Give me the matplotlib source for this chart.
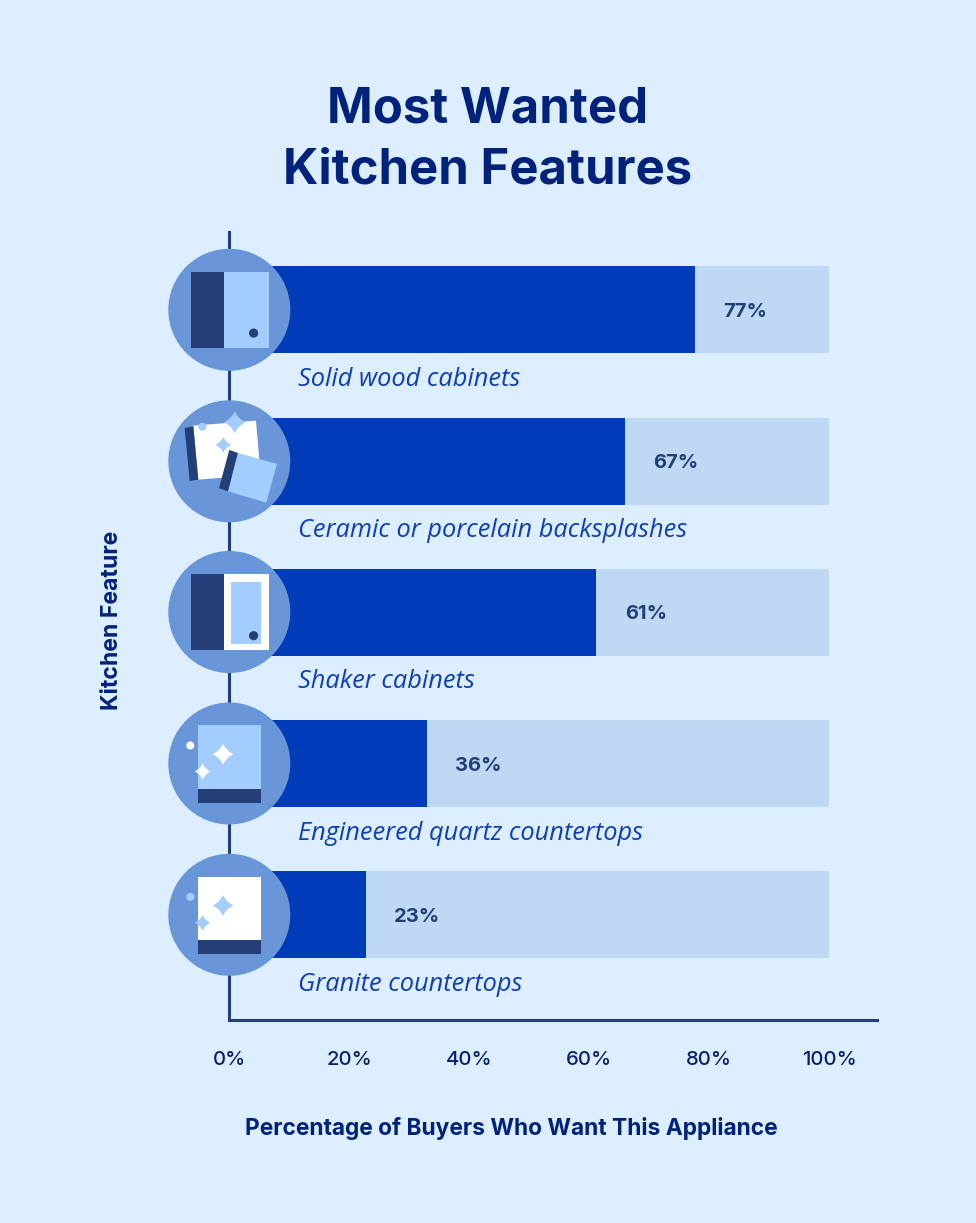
import matplotlib.pyplot as plt
from matplotlib.patches import Circle, Polygon, Rectangle, PathPatch
from matplotlib.path import Path

features = ['Solid wood cabinets', 'Ceramic or porcelain backsplashes', 'Shaker cabinets',
            'Engineered quartz countertops', 'Granite countertops']
bar_values = [77.7, 66.0, 61.2, 33.0, 22.8]
bar_labels = ['77%', '67%', '61%', '36%', '23%']
track_values = [100, 100, 100, 100, 100]
xticks = [0, 20, 40, 60, 80, 100]

BG = '#DCEEFF'
TRACK = '#BFD8F4'
BAR = '#003BB8'
AXIS = '#243E78'
CIRCLE = '#6896D9'
LIGHT = '#A3CDFE'
NAVY = '#00227B'
TICK = '#0A1F6E'
W, H = 976, 1223

plt.rcParams['font.family'] = ['Inter', 'DejaVu Sans']

fig = plt.figure(figsize=(W / 100, H / 100), dpi=100, facecolor=BG)
# axes box in pixels: x 229-877, y 232-1020
ax = fig.add_axes([229 / W, 1 - 1020 / H, 648 / W, 788 / H], facecolor='none')
ypos = list(range(len(features)))

ax.barh(ypos, track_values, height=0.575, color=TRACK, zorder=1)
ax.barh(ypos, bar_values, height=0.575, color=BAR, zorder=2)
ax.set_xlim(0, 108)
ax.set_ylim(4.695, -0.515)

for i, (v, lab, name) in enumerate(zip(bar_values, bar_labels, features)):
    ax.annotate(lab, (v, i), xytext=(20.5, -1.5), textcoords='offset points', va='center', ha='left',
                fontsize=14.5, fontweight='bold', color=AXIS, zorder=3)
    ax.annotate(name, (11.5, i), xytext=(0, -50), textcoords='offset points', va='center', ha='left',
                fontsize=18.3, fontstyle='italic', family='Open Sans', color='#0F3EB5', zorder=3)

for s in ['top', 'right']:
    ax.spines[s].set_visible(False)
for s in ['left', 'bottom']:
    ax.spines[s].set_linewidth(2.2)
    ax.spines[s].set_color(AXIS)
    ax.spines[s].set_zorder(0)
ax.set_yticks([])
ax.set_xticks(xticks)
ax.set_xticklabels([f'{t}%' for t in xticks], fontsize=14.6, fontweight='medium', color=TICK)
ax.tick_params(axis='x', length=0, pad=22)

ax.set_xlabel('Percentage of Buyers Who Want This Appliance', fontsize=16.4, fontweight='bold', color=NAVY)
ax.xaxis.set_label_coords((511 - 229) / 648, -(1129 - 1020) / 788, transform=ax.transAxes)
ax.xaxis.label.set_va('center')
ax.set_ylabel('Kitchen Feature', fontsize=16.6, fontweight='bold', color=NAVY)
ax.yaxis.set_label_coords(-(229 - 112) / 648, (1020 - 620) / 788, transform=ax.transAxes)
ax.yaxis.label.set_va('center')

fig.text(488 / W, 1 - 109.5 / H, 'Most Wanted', ha='center', va='center', fontsize=35.3, fontweight='bold', color=NAVY)
fig.text(488 / W, 1 - 170 / H, 'Kitchen Features', ha='center', va='center', fontsize=35.3, fontweight='bold', color=NAVY)

# icon layer in reference pixels
ov = fig.add_axes([0, 0, 1, 1], facecolor='none')
ov.set_xlim(0, W)
ov.set_ylim(H, 0)
ov.axis('off')


def rect(cx, cy, x0, x1, y0, y1, c):
    ov.add_patch(Rectangle((cx + x0, cy + y0), x1 - x0, y1 - y0, fc=c, ec='none'))


def dot(cx, cy, x, y, r, c):
    ov.add_patch(Circle((cx + x, cy + y), r, fc=c, ec='none'))


def spark(cx, cy, x, y, r, c):
    x += cx
    y += cy
    k = r * 0.3
    verts = [(x, y - r), (x + k, y - k), (x + r, y), (x + k, y + k), (x, y + r),
             (x - k, y + k), (x - r, y), (x - k, y - k), (x, y - r)]
    codes = [Path.MOVETO] + [Path.CURVE3] * 8
    ov.add_patch(PathPatch(Path(verts, codes), fc=c, ec='none'))


def poly(cx, cy, pts, c):
    ov.add_patch(Polygon([(cx + (a - 208) / 3, cy + (b - 665) / 3) for a, b in pts], fc=c, ec='none'))


cx = 229.3
centers = [309.8, 461.3, 612, 763.5, 914.8]
for cy in centers:
    ov.add_patch(Circle((cx, cy), 61, fc=CIRCLE, ec='none'))

cy = centers[0]
rect(cx, cy, -38.7, -5.3, -37.7, 38.3, AXIS)
rect(cx, cy, -5.3, 39.3, -37.7, 38.3, LIGHT)
dot(cx, cy, 24.3, 23.3, 4.6, AXIS)

cy = centers[1]
poly(cx, cy, [(100, 558), (288, 543), (302, 705), (115, 720)], 'white')
poly(cx, cy, [(74, 565), (100, 560), (115, 720), (89, 724)], AXIS)
spark(cx, cy, 5.5, -39, 11, LIGHT)
spark(cx, cy, -6, -16.5, 8, LIGHT)
dot(cx, cy, -27, -34.5, 4, LIGHT)
poly(cx, cy, [(234, 640), (351, 673), (319, 789), (204, 755)], LIGHT)
poly(cx, cy, [(208, 631), (234, 640), (204, 755), (177, 746)], AXIS)

cy = centers[2]
rect(cx, cy, -38.7, -5.3, -37.7, 38.3, AXIS)
rect(cx, cy, -5.3, 39.3, -37.7, 38.3, 'white')
rect(cx, cy, 1.7, 32, -30, 32, LIGHT)
dot(cx, cy, 24.3, 23.7, 4.6, AXIS)

cy = centers[3]
rect(cx, cy, -31.7, 32, -38.3, 25, LIGHT)
rect(cx, cy, -31.7, 32, 25, 39, AXIS)
spark(cx, cy, -6.3, -9.3, 10.5, 'white')
spark(cx, cy, -26.7, 8, 8, 'white')
dot(cx, cy, -39, -18, 4, 'white')

cy = centers[4]
rect(cx, cy, -31.7, 32, -38.3, 25, 'white')
rect(cx, cy, -31.7, 32, 25, 39, AXIS)
spark(cx, cy, -6.3, -9.3, 10.5, LIGHT)
spark(cx, cy, -26.7, 8, 8, LIGHT)
dot(cx, cy, -39, -18, 4, LIGHT)

fig.savefig('out.png', dpi=100, facecolor=BG)
